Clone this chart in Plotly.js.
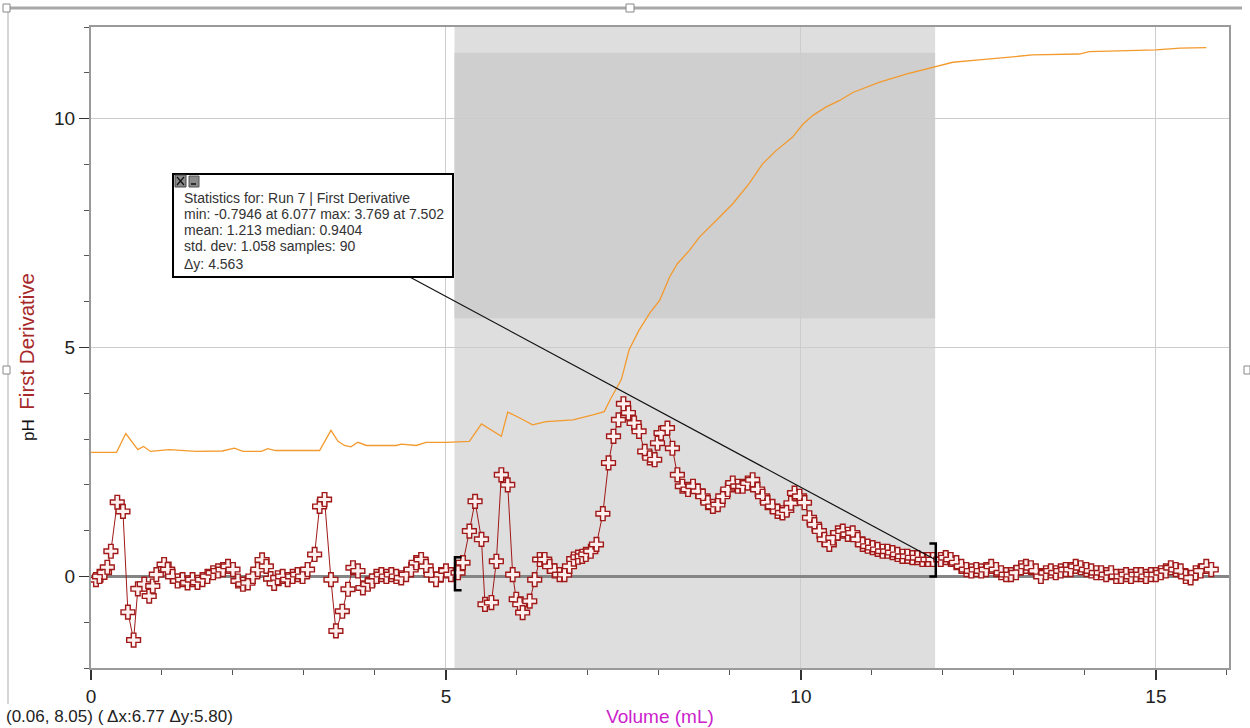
<!DOCTYPE html>
<html>
<head>
<meta charset="utf-8">
<script src="https://cdn.plot.ly/plotly-3.0.1.min.js"></script>
<style>html,body{margin:0;padding:0;background:#fff;}#chart{width:1250px;height:728px;}</style>
</head>
<body>
<div id="chart"></div>
<script>
// ---- Data ----
const volD = [0.07,0.12,0.19,0.23,0.28,0.37,0.45,0.52,0.60,0.66,
0.75,0.82,0.87,0.92,1.03,1.08,1.15,1.22,1.29,1.36,
1.43,1.50,1.57,1.64,1.72,1.79,1.86,1.93,2.00,2.07,
2.14,2.21,2.28,2.35,2.41,2.47,2.53,2.58,2.63,2.70,
2.77,2.84,2.91,2.98,3.05,3.15,3.22,3.29,3.38,3.45,
3.54,3.62,3.69,3.76,3.83,3.90,3.96,4.02,4.09,4.16,
4.23,4.30,4.37,4.44,4.51,4.58,4.65,4.72,4.79,4.86,
4.93,5.00,5.07,5.17,5.24,5.33,5.41,5.50,5.55,5.64,
5.71,5.78,5.87,5.94,5.99,6.04,6.08,6.18,6.25,6.32,
6.39,6.46,6.53,6.60,6.67,6.74,6.80,6.86,6.92,6.97,
7.04,7.12,7.21,7.29,7.36,7.43,7.50,7.57,7.65,7.72,
7.80,7.87,7.94,7.98,8.03,8.12,8.19,8.26,8.33,8.41,
8.48,8.55,8.62,8.69,8.76,8.83,8.90,8.97,9.04,9.11,
9.18,9.25,9.32,9.39,9.46,9.53,9.60,9.67,9.74,9.80,
9.86,9.91,9.98,10.05,10.12,10.19,10.26,10.33,10.40,10.45,
10.52,10.59,10.66,10.73,10.80,10.87,10.94,11.01,11.08,11.15,
11.22,11.29,11.36,11.43,11.50,11.57,11.64,11.71,11.79,11.86,
11.97,12.04,12.11,12.19,12.26,12.33,12.40,12.47,12.54,12.61,
12.68,12.75,12.82,12.89,12.96,13.03,13.10,13.17,13.24,13.31,
13.38,13.45,13.52,13.59,13.66,13.73,13.80,13.87,13.94,14.02,
14.09,14.16,14.23,14.30,14.37,14.44,14.51,14.58,14.65,14.72,
14.79,14.86,14.93,15.00,15.07,15.14,15.21,15.28,15.35,15.42,
15.49,15.56,15.63,15.71,15.78];

const firstDerivative = [-0.07,0.00,0.09,0.20,0.55,1.62,1.42,-0.78,-1.39,-0.27,
-0.17,-0.43,-0.21,0.04,0.26,0.15,0.00,-0.10,-0.07,-0.14,
-0.07,-0.13,-0.07,0.00,0.08,0.12,0.15,0.22,0.15,-0.10,
-0.17,-0.14,0.00,0.15,0.36,0.22,-0.05,-0.15,-0.03,0.00,
-0.07,0.00,0.04,0.00,0.15,0.48,1.53,1.68,-0.07,-1.19,
-0.76,-0.28,0.19,0.12,-0.25,-0.17,-0.10,0.00,0.04,0.00,
0.04,0.00,-0.03,0.04,0.15,0.30,0.37,0.22,0.04,-0.07,
0.04,0.12,0.04,0.08,0.30,0.99,1.64,0.81,-0.61,-0.57,
0.33,2.22,2.00,0.04,-0.50,-0.61,-0.79,-0.54,-0.07,0.37,
0.37,0.22,0.12,0.04,0.04,0.22,0.38,0.42,0.44,0.48,
0.55,0.70,1.37,2.48,3.06,3.42,3.77,3.57,3.35,3.17,
2.73,2.59,2.55,2.91,3.13,3.24,2.80,2.22,1.97,1.90,
1.97,1.86,1.75,1.61,1.53,1.57,1.75,1.90,2.04,1.97,
1.97,2.04,2.11,1.90,1.75,1.61,1.53,1.42,1.39,1.45,
1.60,1.82,1.75,1.61,1.28,1.13,0.99,0.81,0.70,0.84,
0.95,0.99,0.92,0.95,0.81,0.70,0.66,0.63,0.59,0.55,
0.55,0.52,0.48,0.44,0.44,0.41,0.41,0.37,0.37,0.37,
0.37,0.41,0.37,0.30,0.22,0.15,0.12,0.15,0.12,0.15,
0.22,0.15,0.08,0.04,0.04,0.08,0.19,0.22,0.19,0.12,
0.00,0.08,0.12,0.08,0.12,0.15,0.15,0.22,0.19,0.15,
0.12,0.08,0.08,0.04,0.08,0.00,0.00,0.04,0.00,0.04,
0.04,0.00,0.04,0.04,0.08,0.12,0.19,0.15,0.12,0.00,
-0.03,0.08,0.12,0.22,0.15];

const volPH = [0,0.36,0.49,0.66,0.74,0.84,1.10,1.25,1.48,1.85,
2.02,2.14,2.40,2.49,2.60,3.22,3.38,3.48,3.57,3.66,
3.76,3.88,4.30,4.37,4.58,4.72,5.00,5.33,5.50,5.78,
5.87,6.04,6.22,6.41,6.79,7.07,7.23,7.32,7.47,7.58,
7.72,7.87,8.01,8.15,8.26,8.43,8.57,8.81,9.04,9.27,
9.46,9.65,9.88,10.03,10.17,10.35,10.54,10.73,11.10,11.48,
11.88,12.14,12.51,12.89,13.26,13.92,14.06,15.00,15.34,15.71];

const pH = [2.71,2.71,3.12,2.77,2.84,2.73,2.77,2.75,2.73,2.74,
2.80,2.73,2.73,2.79,2.75,2.75,3.19,2.95,2.86,2.83,
2.93,2.86,2.86,2.89,2.86,2.93,2.93,2.95,3.33,3.06,
3.59,3.46,3.31,3.38,3.42,3.53,3.60,3.88,4.30,4.95,
5.38,5.75,6.03,6.54,6.83,7.12,7.41,7.78,8.14,8.58,
9.01,9.30,9.59,9.88,10.07,10.25,10.39,10.57,10.79,10.97,
11.12,11.23,11.28,11.34,11.39,11.41,11.46,11.50,11.54,11.55];

// selection / statistics
const selX = [5.12, 11.89];     // Δx 6.77
const selY = [5.64, 11.44];     // Δy 5.80
const statsLines = [
  "Statistics for: Run 7 | First Derivative",
  "min: -0.7946 at 6.077 max: 3.769 at 7.502",
  "mean: 1.213 median: 0.9404",
  "std. dev: 1.058 samples: 90",
  "Δy: 4.563"
];
const cursorText = "(0.06, 8.05) ( Δx:6.77 Δy:5.80)";
const xTitle = "Volume (mL)";

// ---- layout helpers: pixel -> paper ----
const L = 91, R = 1229, T = 27, B = 668;
const px = p => (p - L) / (R - L);
const py = p => (B - p) / (B - T);

const FONT = "Liberation Sans, Arial, sans-serif";
const red = "#a01818";

const traces = [
  {
    x: volPH, y: pH, type: "scatter", mode: "lines",
    line: {color: "#f39a2e", width: 1.3}, hoverinfo: "skip"
  },
  {
    x: volD, y: firstDerivative, type: "scatter", mode: "lines+markers",
    line: {color: red, width: 1},
    marker: {symbol: "cross", size: 11.5, color: "#fff0f0", line: {color: red, width: 1.4}}
  }
];

const shapes = [
  // selection shading
  {type: "rect", xref: "x", yref: "paper", x0: selX[0], x1: selX[1], y0: 0, y1: 1,
   fillcolor: "#dedede", line: {width: 0}, layer: "below"},
  {type: "rect", xref: "x", yref: "y", x0: selX[0], x1: selX[1], y0: selY[0], y1: selY[1],
   fillcolor: "#cfcfcf", line: {width: 0}, layer: "below"},
  // brackets
  {type: "path", xref: "x", yref: "y", layer: "above",
   path: "M5.22,0.42 L5.127,0.42 L5.127,-0.30 L5.22,-0.30", line: {color: "#000", width: 2.5}},
  {type: "path", xref: "x", yref: "y", layer: "above",
   path: "M11.81,0.72 L11.90,0.72 L11.90,0.0 L11.81,0.0", line: {color: "#000", width: 2.5}},
  // connector line from stats box
  {type: "line", xref: "x", yref: "y", x0: 4.49, y0: 6.54, x1: 11.89, y1: 0.37,
   line: {color: "#111", width: 1.2}, layer: "above"},
  // stats box
  {type: "rect", xref: "paper", yref: "paper", x0: px(173), x1: px(453), y0: py(277), y1: py(174),
   fillcolor: "#ffffff", line: {color: "#000", width: 2}, layer: "above"},
  {type: "rect", xref: "paper", yref: "paper", x0: px(175), x1: px(186), y0: py(187), y1: py(175),
   fillcolor: "#8a8a8a", line: {color: "#444", width: 1}, layer: "above"},
  {type: "path", xref: "paper", yref: "paper", layer: "above",
   path: `M${px(177)},${py(177)} L${px(184)},${py(185)} M${px(184)},${py(177)} L${px(177)},${py(185)}`,
   line: {color: "#111", width: 1.2}},
  {type: "rect", xref: "paper", yref: "paper", x0: px(189), x1: px(199), y0: py(187), y1: py(176),
   fillcolor: "#8a8a8a", line: {color: "#555", width: 1}, layer: "above"},
  {type: "line", xref: "paper", yref: "paper", x0: px(191), x1: px(196), y0: py(184), y1: py(184),
   line: {color: "#111", width: 1.5}, layer: "above"},
  // window frame
  {type: "line", xref: "paper", yref: "paper", x0: px(8), x1: px(1242), y0: py(8), y1: py(8),
   line: {color: "#a8a8a8", width: 3}, layer: "above"},
  {type: "line", xref: "paper", yref: "paper", x0: px(8), x1: px(8), y0: py(8), y1: py(704),
   line: {color: "#c8c8c8", width: 1.5}, layer: "above"},
  {type: "rect", xref: "paper", yref: "paper", x0: px(626), x1: px(634), y0: py(12), y1: py(4),
   fillcolor: "#fff", line: {color: "#888", width: 1}, layer: "above"},
  {type: "rect", xref: "paper", yref: "paper", x0: px(3), x1: px(10), y0: py(374), y1: py(366),
   fillcolor: "#fff", line: {color: "#888", width: 1}, layer: "above"},
  {type: "rect", xref: "paper", yref: "paper", x0: px(1244), x1: px(1250), y0: py(374), y1: py(366),
   fillcolor: "#fff", line: {color: "#888", width: 1}, layer: "above"},
  {type: "rect", xref: "paper", yref: "paper", x0: px(3), x1: px(10), y0: py(12), y1: py(4),
   fillcolor: "#fff", line: {color: "#888", width: 1}, layer: "above"}
];

const statY = [198, 214, 230, 246, 264];
const annotations = statsLines.map((t, i) => ({
  text: t, xref: "paper", yref: "paper", x: px(182), y: py(statY[i]),
  xanchor: "left", yanchor: "middle", showarrow: false,
  font: {family: FONT, size: 14, color: "#333"}
}));
annotations.push({
  text: cursorText, xref: "paper", yref: "paper", x: px(4), y: py(716),
  xanchor: "left", yanchor: "middle", showarrow: false,
  font: {family: FONT, size: 17, color: "#222"}
});

const layout = {
  width: 1250, height: 728,
  margin: {l: L, r: 1250 - R, t: T, b: 728 - B, pad: 0},
  paper_bgcolor: "#ffffff", plot_bgcolor: "#ffffff",
  showlegend: false,
  font: {family: FONT, size: 19, color: "#222"},
  xaxis: {
    range: [0, 16.03], tick0: 0, dtick: 5,
    ticks: "outside", ticklen: 10, tickwidth: 1.5, tickcolor: "#333",
    showline: true, linecolor: "#9a9a9a", linewidth: 2, mirror: true,
    showgrid: true, gridcolor: "#cccccc", gridwidth: 1,
    zeroline: false,
    minor: {dtick: 1, ticks: "outside", ticklen: 5, tickwidth: 1, tickcolor: "#555", showgrid: false},
    tickfont: {family: FONT, size: 19, color: "#222"},
    title: {text: xTitle, font: {family: FONT, size: 19, color: "#cc22cc"}, standoff: 4}
  },
  yaxis: {
    range: [-2, 12], tick0: 0, dtick: 5,
    ticks: "outside", ticklen: 10, tickwidth: 1.5, tickcolor: "#333",
    showline: true, linecolor: "#9a9a9a", linewidth: 2, mirror: true,
    showgrid: true, gridcolor: "#cccccc", gridwidth: 1,
    zeroline: true, zerolinecolor: "#858585", zerolinewidth: 2.5,
    minor: {dtick: 1, ticks: "outside", ticklen: 5, tickwidth: 1, tickcolor: "#555", showgrid: false},
    tickfont: {family: FONT, size: 19, color: "#222"},
    title: {
      text: 'pH&nbsp;&nbsp;<span style="color:#a8282a;font-size:20.5px">First Derivative</span>&nbsp;&nbsp;&nbsp;&nbsp;',
      font: {family: FONT, size: 17, color: "#111"}, standoff: 15
    }
  },
  shapes: shapes,
  annotations: annotations
};

Plotly.newPlot("chart", traces, layout, {displayModeBar: false, staticPlot: true});
</script>
</body>
</html>
